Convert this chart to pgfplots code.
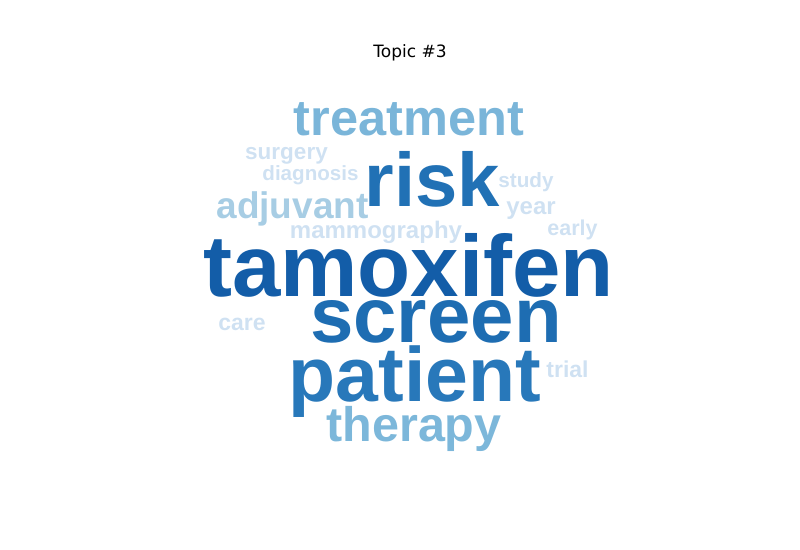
\documentclass[border=0pt]{standalone}
\usepackage{fontspec}
\usepackage{pgfplots}
\pgfplotsset{compat=1.18}
\setmainfont{Liberation Sans}
\newfontfamily\wfont{Liberation Sans}
\newfontfamily\titlefont{DejaVu Sans}
\newcommand\wc[1]{\wfont\bfseries\fontsize{#1bp}{#1bp}\selectfont}
\definecolor{cA}{HTML}{135DA8}
\definecolor{cB}{HTML}{2171B5}
\definecolor{cC}{HTML}{1E6DB2}
\definecolor{cD}{HTML}{2878BA}
\definecolor{cE}{HTML}{7AB5D9}
\definecolor{cF}{HTML}{7CB7DA}
\definecolor{cG}{HTML}{A7CDE4}
\definecolor{cH}{HTML}{CFE1F2}
\pgfplotsset{
  word/.style n args={3}{draw=none, mark=none, nodes near coords={#1},
    every node near coord/.append style={anchor=base, inner sep=0pt, outer sep=0pt, font=\wc{#2}, text=#3}},
}
\begin{document}
\begin{tikzpicture}
\begin{axis}[scale only axis, width=800bp, height=550bp, hide axis,
  xmin=0, xmax=800, ymin=0, ymax=550, y dir=reverse, clip=false]
\path[draw=none] (axis cs:0,0) rectangle (axis cs:800,550);
\addplot[word={Topic \#3}{17}{black}, every node near coord/.append style={font=\titlefont\fontsize{17bp}{17bp}\selectfont}] coordinates {(410,58)};
\addplot[word={tamoxifen}{87}{cA}] coordinates {(408.5,297)};
\addplot[word={risk}{76}{cB}] coordinates {(432.5,207)};
\addplot[word={treatment}{50.5}{cE}] coordinates {(409,136)};
\addplot[word={screen}{78}{cC}] coordinates {(436,342)};
\addplot[word={patient}{77}{cD}] coordinates {(415,401)};
\addplot[word={therapy}{48.5}{cF}] coordinates {(414,441)};
\addplot[word={adjuvant}{37}{cG}] coordinates {(292.5,219)};
\addplot[word={surgery}{22.5}{cH}] coordinates {(286.5,160)};
\addplot[word={diagnosis}{20.6}{cH}] coordinates {(310.5,181)};
\addplot[word={mammography}{24}{cH}] coordinates {(376,239)};
\addplot[word={study}{20.7}{cH}] coordinates {(526,188)};
\addplot[word={year}{24}{cH}] coordinates {(531,215)};
\addplot[word={early}{21.5}{cH}] coordinates {(572.5,236)};
\addplot[word={care}{23}{cH}] coordinates {(242,330)};
\addplot[word={trial}{23}{cH}] coordinates {(567.5,377)};
\end{axis}
\end{tikzpicture}
\end{document}
